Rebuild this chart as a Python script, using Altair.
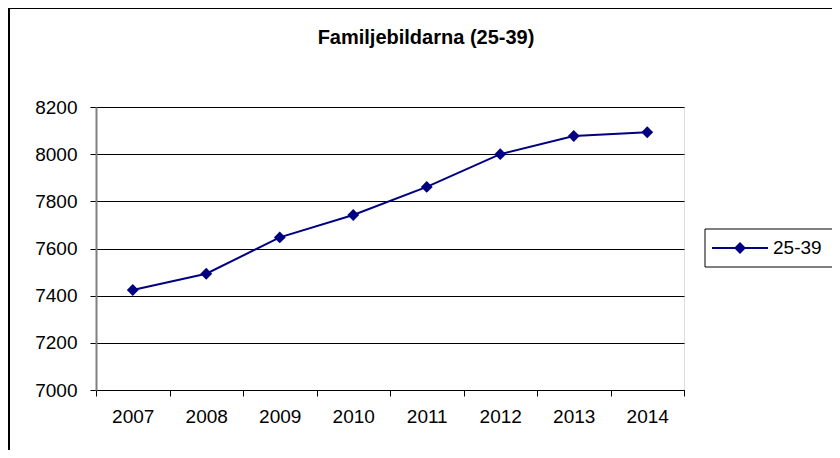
import altair as alt
import pandas as pd

years = ["2007", "2008", "2009", "2010", "2011", "2012", "2013", "2014"]
values = [7424, 7493, 7647, 7742, 7861, 8000, 8077, 8093]
series = ["25-39"]
y_ticks = [7000, 7200, 7400, 7600, 7800, 8000, 8200]
title_text = ["Familjebildarna (25-39)"]

FONT = "Liberation Sans"
NAVY = "#000080"
FS = 19

df = pd.DataFrame({"year": years, "value": values, "series": series[0]})
legend_df = pd.DataFrame({"label": series})
title_df = pd.DataFrame({"t": title_text})

x = alt.X(
    "year:N", sort=years, title=None,
    scale=alt.Scale(paddingInner=0, paddingOuter=0),
    axis=alt.Axis(labelAngle=0, tickBand="extent", labelFontSize=FS, labelFont=FONT,
                  labelColor="black", tickColor="black", domainColor="black",
                  tickSize=6, labelPadding=11, grid=False),
)
y = alt.Y(
    "value:Q", title=None,
    scale=alt.Scale(domain=[7000, 8200], nice=False, zero=False),
    axis=alt.Axis(values=y_ticks, labelFontSize=FS, labelFont=FONT, labelColor="black",
                  tickColor="black", domainColor="#808080", domainWidth=2,
                  tickSize=6, labelPadding=13, format="d",
                  grid=True, gridColor="black", gridWidth=1),
)

frame = alt.Chart(title_df).mark_rect(fillOpacity=0, stroke="black", strokeWidth=2).encode(
    x=alt.value(-87), x2=alt.value(800), y=alt.value(-99), y2=alt.value(420)
)

line = alt.Chart(df).mark_line(color=NAVY, strokeWidth=2).encode(x=x, y=y)
pts = alt.Chart(df).mark_point(shape="diamond", filled=True, size=140, color=NAVY, opacity=1).encode(x=x, y=y)

title = alt.Chart(title_df).mark_text(fontSize=20, fontWeight="bold", font=FONT, color="black",
                                      align="center", baseline="middle").encode(
    x=alt.value(330), y=alt.value(-69), text="t:N"
)

leg_box = alt.Chart(legend_df).mark_rect(fill="white", stroke="black", strokeWidth=1).encode(
    x=alt.value(609), x2=alt.value(743), y=alt.value(122), y2=alt.value(160)
)
leg_rule = alt.Chart(legend_df).mark_rule(color=NAVY, strokeWidth=2).encode(
    x=alt.value(616), x2=alt.value(672), y=alt.value(141)
)
leg_pt = alt.Chart(legend_df).mark_point(shape="diamond", filled=True, size=140, color=NAVY, opacity=1).encode(
    x=alt.value(644), y=alt.value(141)
)
leg_text = alt.Chart(legend_df).mark_text(align="left", baseline="middle", fontSize=FS, font=FONT,
                                          color="black").encode(
    x=alt.value(677), y=alt.value(141), text="label:N"
)

chart = alt.layer(frame, line, pts, title, leg_box, leg_rule, leg_pt, leg_text).properties(
    width=588, height=283,
    autosize=alt.AutoSizeParams(type="none"),
    padding={"left": 88, "top": 99, "right": 148, "bottom": 60},
).configure_view(stroke="#808080", strokeWidth=1).configure(background="white")

chart.save("out.html", embed_options={"renderer": "svg", "actions": False})
